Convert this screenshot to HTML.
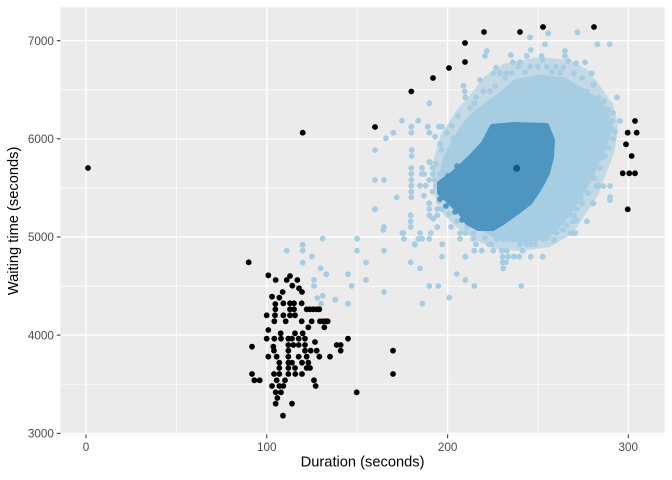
<!DOCTYPE html>
<html><head><meta charset="utf-8"><style>
html,body{margin:0;padding:0;background:#fff;}
svg{display:block;}
text{font-family:"Liberation Sans",Arial,sans-serif;}
</style></head><body>
<svg width="672" height="480" viewBox="0 0 672 480" xmlns="http://www.w3.org/2000/svg">
<rect x="0" y="0" width="672" height="480" fill="#fff"/>
<defs><clipPath id="pc"><rect x="60.5" y="7.3" width="604.2" height="427.2"/></clipPath></defs>
<rect x="60.5" y="7.3" width="604.2" height="427.2" fill="#EBEBEB"/>
<g stroke="#fff" fill="none">
<g stroke-width="0.71">
<line x1="176.4" y1="7.3" x2="176.4" y2="434.5"/><line x1="357.2" y1="7.3" x2="357.2" y2="434.5"/><line x1="538" y1="7.3" x2="538" y2="434.5"/>
<line x1="60.5" y1="89.8" x2="664.7" y2="89.8"/><line x1="60.5" y1="187.9" x2="664.7" y2="187.9"/><line x1="60.5" y1="286.1" x2="664.7" y2="286.1"/><line x1="60.5" y1="384.2" x2="664.7" y2="384.2"/>
</g>
<g stroke-width="1.42">
<line x1="86" y1="7.3" x2="86" y2="434.5"/><line x1="266.8" y1="7.3" x2="266.8" y2="434.5"/><line x1="447.6" y1="7.3" x2="447.6" y2="434.5"/><line x1="628.3" y1="7.3" x2="628.3" y2="434.5"/>
<line x1="60.5" y1="40.7" x2="664.7" y2="40.7"/><line x1="60.5" y1="138.8" x2="664.7" y2="138.8"/><line x1="60.5" y1="237" x2="664.7" y2="237"/><line x1="60.5" y1="335.1" x2="664.7" y2="335.1"/><line x1="60.5" y1="433.3" x2="664.7" y2="433.3"/>
</g>
</g>
<g clip-path="url(#pc)">
<path d="M470,95 L485,76 L505,63 L540,57 L570,60 L588,70 L600,86 L613,104 L618,125 L615,150 L606,174 L598,195 L585,215 L572,234 L550,247 L520,251 L495,249 L475,240 L455,226 L440,211 L433,190 L433,162 L440,136 L455,112 Z" fill="#C3D9E5"/>
<path d="M487,103 L500,94 L515,81 L540,76 L565,79 L580,88 L598,100 L607,111 L611,128 L606,145 L598,163 L590,180 L580,197 L570,212 L560,226 L548,236 L525,241 L505,240 L490,234 L472,224 L455,210 L444,198 L440,180 L444,160 L452,143 L463,125 L475,112 Z" fill="#A6CDE2" stroke="#A6CDE2" stroke-width="3" stroke-linejoin="round"/>
<g fill="#A6CDE2">
<circle cx="322.7" cy="238.7" r="2.9"/><circle cx="357" cy="238.7" r="2.9"/><circle cx="286.7" cy="250.7" r="2.9"/><circle cx="302.7" cy="244.7" r="2.9"/><circle cx="302.7" cy="250.7" r="2.9"/><circle cx="357" cy="250.7" r="2.9"/><circle cx="384" cy="250.7" r="2.9"/><circle cx="312" cy="256.5" r="2.9"/><circle cx="302.7" cy="262.7" r="2.9"/><circle cx="366" cy="262.5" r="2.9"/><circle cx="320.7" cy="268.3" r="2.9"/><circle cx="326.3" cy="274.3" r="2.9"/><circle cx="348" cy="274.3" r="2.9"/><circle cx="314" cy="280" r="2.9"/><circle cx="366" cy="280" r="2.9"/><circle cx="314" cy="286" r="2.9"/><circle cx="351.7" cy="286" r="2.9"/><circle cx="384" cy="292" r="2.9"/><circle cx="322.7" cy="295.7" r="2.9"/><circle cx="317.3" cy="298" r="2.9"/><circle cx="335.3" cy="299.7" r="2.9"/><circle cx="348" cy="303.7" r="2.9"/><circle cx="321" cy="303.7" r="2.9"/><circle cx="383.3" cy="230" r="2.9"/>
<circle cx="375" cy="209" r="2.9"/><circle cx="384" cy="227" r="2.9"/><circle cx="403.3" cy="233" r="2.9"/><circle cx="420" cy="233" r="2.9"/><circle cx="430.7" cy="233" r="2.9"/><circle cx="404" cy="239" r="2.9"/><circle cx="418.3" cy="239" r="2.9"/><circle cx="429.3" cy="239" r="2.9"/><circle cx="414.7" cy="244.3" r="2.9"/><circle cx="442.3" cy="244.3" r="2.9"/><circle cx="410.7" cy="215.3" r="2.9"/><circle cx="410.7" cy="221.3" r="2.9"/><circle cx="410.7" cy="227" r="2.9"/><circle cx="429.3" cy="203.3" r="2.9"/><circle cx="429.3" cy="209" r="2.9"/><circle cx="437.3" cy="209" r="2.9"/><circle cx="441.7" cy="209" r="2.9"/><circle cx="429.3" cy="215.3" r="2.9"/><circle cx="437.3" cy="215.3" r="2.9"/><circle cx="433.3" cy="218.7" r="2.9"/><circle cx="437.3" cy="227" r="2.9"/><circle cx="451" cy="227" r="2.9"/><circle cx="456.7" cy="221.3" r="2.9"/><circle cx="460" cy="233" r="2.9"/><circle cx="465.3" cy="233" r="2.9"/><circle cx="473.3" cy="233" r="2.9"/><circle cx="460" cy="239" r="2.9"/><circle cx="473.3" cy="239" r="2.9"/><circle cx="476" cy="244.3" r="2.9"/><circle cx="489.3" cy="244.3" r="2.9"/><circle cx="491.7" cy="244.3" r="2.9"/><circle cx="474.3" cy="250.7" r="2.9"/><circle cx="481.7" cy="250.7" r="2.9"/><circle cx="493.3" cy="250.7" r="2.9"/><circle cx="501.7" cy="250.7" r="2.9"/><circle cx="506.7" cy="250.7" r="2.9"/><circle cx="522.7" cy="250.7" r="2.9"/><circle cx="442" cy="256.7" r="2.9"/><circle cx="465.3" cy="256.7" r="2.9"/><circle cx="502.7" cy="256.7" r="2.9"/><circle cx="508.3" cy="256.7" r="2.9"/><circle cx="514" cy="256.7" r="2.9"/><circle cx="519.3" cy="256.7" r="2.9"/><circle cx="530.7" cy="256.7" r="2.9"/><circle cx="542.7" cy="256.7" r="2.9"/><circle cx="410.7" cy="262.3" r="2.9"/><circle cx="502.7" cy="262.3" r="2.9"/><circle cx="506" cy="262.3" r="2.9"/><circle cx="503.3" cy="268.3" r="2.9"/><circle cx="420" cy="268.3" r="2.9"/><circle cx="456.7" cy="274" r="2.9"/><circle cx="465.3" cy="280" r="2.9"/><circle cx="429.3" cy="286" r="2.9"/><circle cx="438.3" cy="286" r="2.9"/><circle cx="474.3" cy="286" r="2.9"/><circle cx="521.3" cy="286" r="2.9"/><circle cx="422.3" cy="303.7" r="2.9"/><circle cx="449.3" cy="297.7" r="2.9"/><circle cx="415" cy="244.7" r="2.9"/><circle cx="422" cy="238.7" r="2.9"/>
<circle cx="500" cy="233" r="2.9"/><circle cx="506.7" cy="233" r="2.9"/><circle cx="513.3" cy="233" r="2.9"/><circle cx="520" cy="233" r="2.9"/><circle cx="529.3" cy="233" r="2.9"/><circle cx="540" cy="233" r="2.9"/><circle cx="546.7" cy="233" r="2.9"/><circle cx="570.7" cy="233" r="2.9"/><circle cx="575.3" cy="233" r="2.9"/><circle cx="496.7" cy="239" r="2.9"/><circle cx="503" cy="239" r="2.9"/><circle cx="510" cy="239" r="2.9"/><circle cx="516" cy="239" r="2.9"/><circle cx="523" cy="239" r="2.9"/><circle cx="530" cy="239" r="2.9"/><circle cx="536" cy="239" r="2.9"/><circle cx="543" cy="239" r="2.9"/><circle cx="520" cy="244.3" r="2.9"/><circle cx="526.7" cy="244.3" r="2.9"/><circle cx="530.7" cy="244.3" r="2.9"/><circle cx="535" cy="244.3" r="2.9"/><circle cx="533.3" cy="227" r="2.9"/><circle cx="553.3" cy="227" r="2.9"/><circle cx="540" cy="215.3" r="2.9"/><circle cx="553.3" cy="215.3" r="2.9"/><circle cx="558.7" cy="215.3" r="2.9"/><circle cx="574" cy="215.3" r="2.9"/><circle cx="565" cy="209" r="2.9"/><circle cx="576.7" cy="209" r="2.9"/><circle cx="557.3" cy="203.3" r="2.9"/><circle cx="574" cy="203.3" r="2.9"/><circle cx="582" cy="203.3" r="2.9"/><circle cx="592.7" cy="203.3" r="2.9"/><circle cx="610" cy="200" r="2.9"/><circle cx="573.3" cy="221.3" r="2.9"/><circle cx="587" cy="221.3" r="2.9"/><circle cx="560" cy="221" r="2.9"/><circle cx="567" cy="225" r="2.9"/><circle cx="576.7" cy="220" r="2.9"/><circle cx="573.3" cy="233.3" r="2.9"/>
<circle cx="611.7" cy="121" r="2.9"/><circle cx="620" cy="121" r="2.9"/><circle cx="606" cy="139" r="2.9"/><circle cx="613" cy="139" r="2.9"/><circle cx="598" cy="144" r="2.9"/><circle cx="603" cy="157" r="2.9"/><circle cx="593" cy="160" r="2.9"/><circle cx="586.7" cy="173.3" r="2.9"/><circle cx="585" cy="179.3" r="2.9"/><circle cx="596.7" cy="186" r="2.9"/><circle cx="603.3" cy="186" r="2.9"/><circle cx="610" cy="186" r="2.9"/><circle cx="581" cy="197.3" r="2.9"/><circle cx="610" cy="197" r="2.9"/><circle cx="581.7" cy="203.3" r="2.9"/><circle cx="565" cy="203.3" r="2.9"/><circle cx="563.3" cy="213" r="2.9"/><circle cx="556.7" cy="232.7" r="2.9"/><circle cx="550" cy="226.7" r="2.9"/><circle cx="546.7" cy="238.3" r="2.9"/><circle cx="598.3" cy="185.7" r="2.9"/><circle cx="588.3" cy="193.3" r="2.9"/><circle cx="593.3" cy="203.3" r="2.9"/><circle cx="606.7" cy="138.3" r="2.9"/><circle cx="605" cy="156" r="2.9"/><circle cx="599.3" cy="109.3" r="2.9"/><circle cx="608.3" cy="109.3" r="2.9"/><circle cx="612.3" cy="120.7" r="2.9"/><circle cx="617" cy="97.3" r="2.9"/><circle cx="594" cy="84.3" r="2.9"/><circle cx="586.7" cy="91.3" r="2.9"/><circle cx="590" cy="97.3" r="2.9"/><circle cx="598.3" cy="97.3" r="2.9"/><circle cx="611.7" cy="128.3" r="2.9"/><circle cx="603.3" cy="120.7" r="2.9"/>
<circle cx="530" cy="37.3" r="2.9"/><circle cx="548.3" cy="33.3" r="2.9"/><circle cx="577.3" cy="32.3" r="2.9"/><circle cx="597.3" cy="44.3" r="2.9"/><circle cx="609.7" cy="44.3" r="2.9"/><circle cx="545" cy="44.3" r="2.9"/><circle cx="486.7" cy="51" r="2.9"/><circle cx="485" cy="56" r="2.9"/><circle cx="510.7" cy="55" r="2.9"/><circle cx="526.7" cy="56" r="2.9"/><circle cx="530.7" cy="50" r="2.9"/><circle cx="542.7" cy="60" r="2.9"/><circle cx="541.7" cy="56" r="2.9"/><circle cx="565" cy="51" r="2.9"/><circle cx="565" cy="56" r="2.9"/><circle cx="568.3" cy="61" r="2.9"/><circle cx="576" cy="63.3" r="2.9"/><circle cx="585" cy="62.3" r="2.9"/><circle cx="512.7" cy="62.3" r="2.9"/><circle cx="520" cy="62.3" r="2.9"/><circle cx="496" cy="67.7" r="2.9"/><circle cx="493.3" cy="73.3" r="2.9"/><circle cx="500" cy="73.3" r="2.9"/><circle cx="506.7" cy="73.3" r="2.9"/><circle cx="518.7" cy="66.7" r="2.9"/><circle cx="530" cy="66.7" r="2.9"/><circle cx="538" cy="66.7" r="2.9"/><circle cx="546.7" cy="66.7" r="2.9"/><circle cx="555.7" cy="66.7" r="2.9"/><circle cx="563.3" cy="67.7" r="2.9"/><circle cx="574" cy="73.3" r="2.9"/><circle cx="591.7" cy="73.3" r="2.9"/><circle cx="480" cy="80" r="2.9"/><circle cx="463.3" cy="85.7" r="2.9"/><circle cx="464.7" cy="91.3" r="2.9"/><circle cx="483.3" cy="91.3" r="2.9"/><circle cx="490" cy="91.3" r="2.9"/><circle cx="465.3" cy="97.3" r="2.9"/><circle cx="474.5" cy="103.3" r="2.9"/><circle cx="429.3" cy="103.3" r="2.9"/><circle cx="593.3" cy="85" r="2.9"/>
<circle cx="505" cy="78" r="2.9"/><circle cx="512" cy="73" r="2.9"/><circle cx="525" cy="72" r="2.9"/><circle cx="552" cy="72" r="2.9"/><circle cx="560" cy="73" r="2.9"/><circle cx="582" cy="78" r="2.9"/><circle cx="495" cy="86" r="2.9"/><circle cx="476" cy="97" r="2.9"/><circle cx="470" cy="108" r="2.9"/><circle cx="458" cy="116" r="2.9"/><circle cx="452" cy="126" r="2.9"/><circle cx="447" cy="133" r="2.9"/><circle cx="604" cy="101" r="2.9"/><circle cx="613" cy="113" r="2.9"/><circle cx="615" cy="132" r="2.9"/><circle cx="609" cy="148" r="2.9"/><circle cx="600" cy="168" r="2.9"/><circle cx="594" cy="178" r="2.9"/><circle cx="584" cy="190" r="2.9"/><circle cx="577" cy="198" r="2.9"/><circle cx="570" cy="215" r="2.9"/><circle cx="563" cy="230" r="2.9"/><circle cx="554" cy="240" r="2.9"/><circle cx="485" cy="238" r="2.9"/><circle cx="467" cy="227" r="2.9"/><circle cx="449" cy="214" r="2.9"/><circle cx="439" cy="201" r="2.9"/><circle cx="436" cy="186" r="2.9"/><circle cx="436" cy="164" r="2.9"/>
<circle cx="402" cy="120.7" r="2.9"/><circle cx="418.3" cy="120.7" r="2.9"/><circle cx="386" cy="138.3" r="2.9"/><circle cx="393.3" cy="132.7" r="2.9"/><circle cx="411.3" cy="126.7" r="2.9"/><circle cx="411.3" cy="132.7" r="2.9"/><circle cx="427.7" cy="126.7" r="2.9"/><circle cx="429.3" cy="132.7" r="2.9"/><circle cx="439" cy="126.7" r="2.9"/><circle cx="442" cy="126.7" r="2.9"/><circle cx="435" cy="136.7" r="2.9"/><circle cx="375" cy="150" r="2.9"/><circle cx="411.7" cy="150" r="2.9"/><circle cx="411.7" cy="156" r="2.9"/><circle cx="440" cy="144" r="2.9"/><circle cx="441.7" cy="150" r="2.9"/><circle cx="450" cy="150" r="2.9"/><circle cx="456.7" cy="156" r="2.9"/><circle cx="453.3" cy="138.3" r="2.9"/><circle cx="460" cy="138.3" r="2.9"/><circle cx="465" cy="138.3" r="2.9"/><circle cx="478.3" cy="138.3" r="2.9"/><circle cx="429.3" cy="162" r="2.9"/><circle cx="411.3" cy="168" r="2.9"/><circle cx="422" cy="168" r="2.9"/><circle cx="432.7" cy="168" r="2.9"/><circle cx="411.3" cy="174" r="2.9"/><circle cx="424" cy="174" r="2.9"/><circle cx="432.7" cy="174" r="2.9"/><circle cx="411.3" cy="180" r="2.9"/><circle cx="375" cy="180" r="2.9"/><circle cx="384" cy="180" r="2.9"/><circle cx="429.3" cy="180" r="2.9"/><circle cx="434.7" cy="180" r="2.9"/><circle cx="411.3" cy="185.7" r="2.9"/><circle cx="420" cy="185.7" r="2.9"/><circle cx="425.7" cy="185.7" r="2.9"/><circle cx="411.3" cy="191.7" r="2.9"/><circle cx="432.7" cy="191.7" r="2.9"/><circle cx="411.3" cy="197.3" r="2.9"/><circle cx="396.7" cy="197.3" r="2.9"/><circle cx="424" cy="195.7" r="2.9"/><circle cx="375" cy="209.3" r="2.9"/><circle cx="432.7" cy="218.3" r="2.9"/><circle cx="402.3" cy="233" r="2.9"/><circle cx="430" cy="162.3" r="2.9"/><circle cx="421.7" cy="174" r="2.9"/><circle cx="440" cy="174" r="2.9"/>
</g>
<path d="M492,126 L513,124 L547,125 L553,140 L552,157 L548,173 L543,183 L537,193 L530,203 L517,213 L503,223 L493,229 L478,229 L467,223 L460,213 L450,203 L439,193 L439,183 L453,173 L470,157 L483,143 Z" fill="#4E96BF" stroke="#4E96BF" stroke-width="4" stroke-linejoin="round"/>
<g fill="#4E96BF">
<circle cx="440" cy="199" r="2.9"/><circle cx="446" cy="206" r="2.9"/><circle cx="455" cy="212" r="2.9"/><circle cx="462" cy="220" r="2.9"/><circle cx="457" cy="166" r="2.9"/><circle cx="448" cy="176" r="2.9"/>
</g>
<circle cx="516.7" cy="168.3" r="3.5" fill="#0D5A93"/>
<g fill="#000">
<circle cx="88" cy="168" r="2.9"/><circle cx="302.7" cy="132.7" r="2.9"/><circle cx="375" cy="127" r="2.9"/><circle cx="411.3" cy="91.5" r="2.9"/><circle cx="433" cy="78" r="2.9"/><circle cx="449" cy="68" r="2.9"/><circle cx="465" cy="62" r="2.9"/><circle cx="465" cy="43" r="2.9"/><circle cx="484" cy="32" r="2.9"/><circle cx="520" cy="32" r="2.9"/><circle cx="543" cy="27" r="2.9"/><circle cx="594" cy="27" r="2.9"/>
<circle cx="635" cy="121" r="2.9"/><circle cx="627.7" cy="132.7" r="2.9"/><circle cx="636.7" cy="132.7" r="2.9"/><circle cx="626" cy="144.3" r="2.9"/><circle cx="631.7" cy="156" r="2.9"/><circle cx="622.7" cy="173.3" r="2.9"/><circle cx="629.3" cy="173.3" r="2.9"/><circle cx="635" cy="173.3" r="2.9"/><circle cx="627.7" cy="209.3" r="2.9"/>
</g>
<g fill="#000" transform="translate(220,230) scale(0.33333)">
<circle cx="86" cy="97" r="8.7"/><circle cx="145" cy="136" r="8.7"/><circle cx="167" cy="150" r="8.7"/><circle cx="200" cy="150" r="8.7"/><circle cx="210" cy="138" r="8.7"/><circle cx="232" cy="150" r="8.7"/><circle cx="217" cy="167" r="8.7"/><circle cx="237" cy="175" r="8.7"/><circle cx="246" cy="186" r="8.7"/><circle cx="188" cy="186" r="8.7"/><circle cx="156" cy="200" r="8.7"/><circle cx="178" cy="203" r="8.7"/><circle cx="166" cy="222" r="8.7"/><circle cx="190" cy="220" r="8.7"/><circle cx="210" cy="220" r="8.7"/><circle cx="222" cy="220" r="8.7"/><circle cx="245" cy="220" r="8.7"/><circle cx="166" cy="238" r="8.7"/><circle cx="210" cy="238" r="8.7"/><circle cx="222" cy="238" r="8.7"/><circle cx="260" cy="238" r="8.7"/><circle cx="270" cy="238" r="8.7"/><circle cx="280" cy="238" r="8.7"/><circle cx="290" cy="238" r="8.7"/><circle cx="298" cy="238" r="8.7"/><circle cx="140" cy="256" r="8.7"/><circle cx="165" cy="256" r="8.7"/><circle cx="190" cy="256" r="8.7"/><circle cx="210" cy="256" r="8.7"/><circle cx="225" cy="256" r="8.7"/><circle cx="163" cy="274" r="8.7"/><circle cx="197" cy="274" r="8.7"/><circle cx="245" cy="274" r="8.7"/><circle cx="275" cy="274" r="8.7"/><circle cx="300" cy="274" r="8.7"/><circle cx="310" cy="274" r="8.7"/><circle cx="318" cy="274" r="8.7"/><circle cx="323" cy="274" r="8.7"/><circle cx="313" cy="292" r="8.7"/><circle cx="145" cy="300" r="8.7"/><circle cx="182" cy="310" r="8.7"/><circle cx="225" cy="310" r="8.7"/><circle cx="248" cy="310" r="8.7"/><circle cx="265" cy="292" r="8.7"/><circle cx="140" cy="326" r="8.7"/><circle cx="163" cy="326" r="8.7"/><circle cx="183" cy="326" r="8.7"/><circle cx="205" cy="326" r="8.7"/><circle cx="216" cy="326" r="8.7"/><circle cx="236" cy="326" r="8.7"/><circle cx="255" cy="326" r="8.7"/><circle cx="285" cy="336" r="8.7"/><circle cx="384" cy="326" r="8.7"/><circle cx="96" cy="350" r="8.7"/><circle cx="160" cy="350" r="8.7"/><circle cx="205" cy="345" r="8.7"/><circle cx="220" cy="345" r="8.7"/><circle cx="236" cy="345" r="8.7"/><circle cx="255" cy="345" r="8.7"/><circle cx="350" cy="345" r="8.7"/><circle cx="362" cy="345" r="8.7"/><circle cx="162" cy="362" r="8.7"/><circle cx="205" cy="362" r="8.7"/><circle cx="255" cy="362" r="8.7"/><circle cx="272" cy="362" r="8.7"/><circle cx="290" cy="362" r="8.7"/><circle cx="362" cy="362" r="8.7"/><circle cx="145" cy="380" r="8.7"/><circle cx="170" cy="380" r="8.7"/><circle cx="205" cy="380" r="8.7"/><circle cx="236" cy="380" r="8.7"/><circle cx="260" cy="380" r="8.7"/><circle cx="298" cy="380" r="8.7"/><circle cx="330" cy="380" r="8.7"/><circle cx="519" cy="362" r="8.7"/><circle cx="178" cy="398" r="8.7"/><circle cx="205" cy="398" r="8.7"/><circle cx="216" cy="398" r="8.7"/><circle cx="246" cy="398" r="8.7"/><circle cx="265" cy="398" r="8.7"/><circle cx="178" cy="414" r="8.7"/><circle cx="205" cy="414" r="8.7"/><circle cx="225" cy="414" r="8.7"/><circle cx="260" cy="414" r="8.7"/><circle cx="270" cy="414" r="8.7"/><circle cx="96" cy="432" r="8.7"/><circle cx="162" cy="432" r="8.7"/><circle cx="178" cy="432" r="8.7"/><circle cx="205" cy="432" r="8.7"/><circle cx="226" cy="432" r="8.7"/><circle cx="246" cy="432" r="8.7"/><circle cx="519" cy="432" r="8.7"/><circle cx="103" cy="451" r="8.7"/><circle cx="119" cy="451" r="8.7"/><circle cx="170" cy="451" r="8.7"/><circle cx="195" cy="451" r="8.7"/><circle cx="282" cy="451" r="8.7"/><circle cx="156" cy="468" r="8.7"/><circle cx="178" cy="468" r="8.7"/><circle cx="190" cy="468" r="8.7"/><circle cx="287" cy="468" r="8.7"/><circle cx="167" cy="487" r="8.7"/><circle cx="183" cy="487" r="8.7"/><circle cx="410" cy="487" r="8.7"/><circle cx="172" cy="504" r="8.7"/><circle cx="167" cy="521" r="8.7"/><circle cx="216" cy="521" r="8.7"/><circle cx="189" cy="557" r="8.7"/>
</g>
</g>
<g stroke="#333" stroke-width="1.07">
<line x1="56.8" y1="40.7" x2="60.5" y2="40.7"/><line x1="56.8" y1="138.8" x2="60.5" y2="138.8"/><line x1="56.8" y1="237" x2="60.5" y2="237"/><line x1="56.8" y1="335.1" x2="60.5" y2="335.1"/><line x1="56.8" y1="433.3" x2="60.5" y2="433.3"/>
<line x1="86" y1="434.5" x2="86" y2="438.2"/><line x1="266.8" y1="434.5" x2="266.8" y2="438.2"/><line x1="447.6" y1="434.5" x2="447.6" y2="438.2"/><line x1="628.3" y1="434.5" x2="628.3" y2="438.2"/>
</g>
<g fill="#4D4D4D" font-size="11.73" text-anchor="end">
<text x="53.9" y="44.9">7000</text><text x="53.9" y="143">6000</text><text x="53.9" y="241.2">5000</text><text x="53.9" y="339.3">4000</text><text x="53.9" y="437.5">3000</text>
</g>
<g fill="#4D4D4D" font-size="11.73" text-anchor="middle">
<text x="86" y="451">0</text><text x="266.8" y="451">100</text><text x="447.6" y="451">200</text><text x="628.3" y="451">300</text>
</g>
<text x="362.6" y="466.5" font-size="14.67" text-anchor="middle" fill="#000">Duration (seconds)</text>
<text transform="translate(18,220.9) rotate(-90)" font-size="14.67" text-anchor="middle" fill="#000">Waiting time (seconds)</text>
</svg>
</body></html>
